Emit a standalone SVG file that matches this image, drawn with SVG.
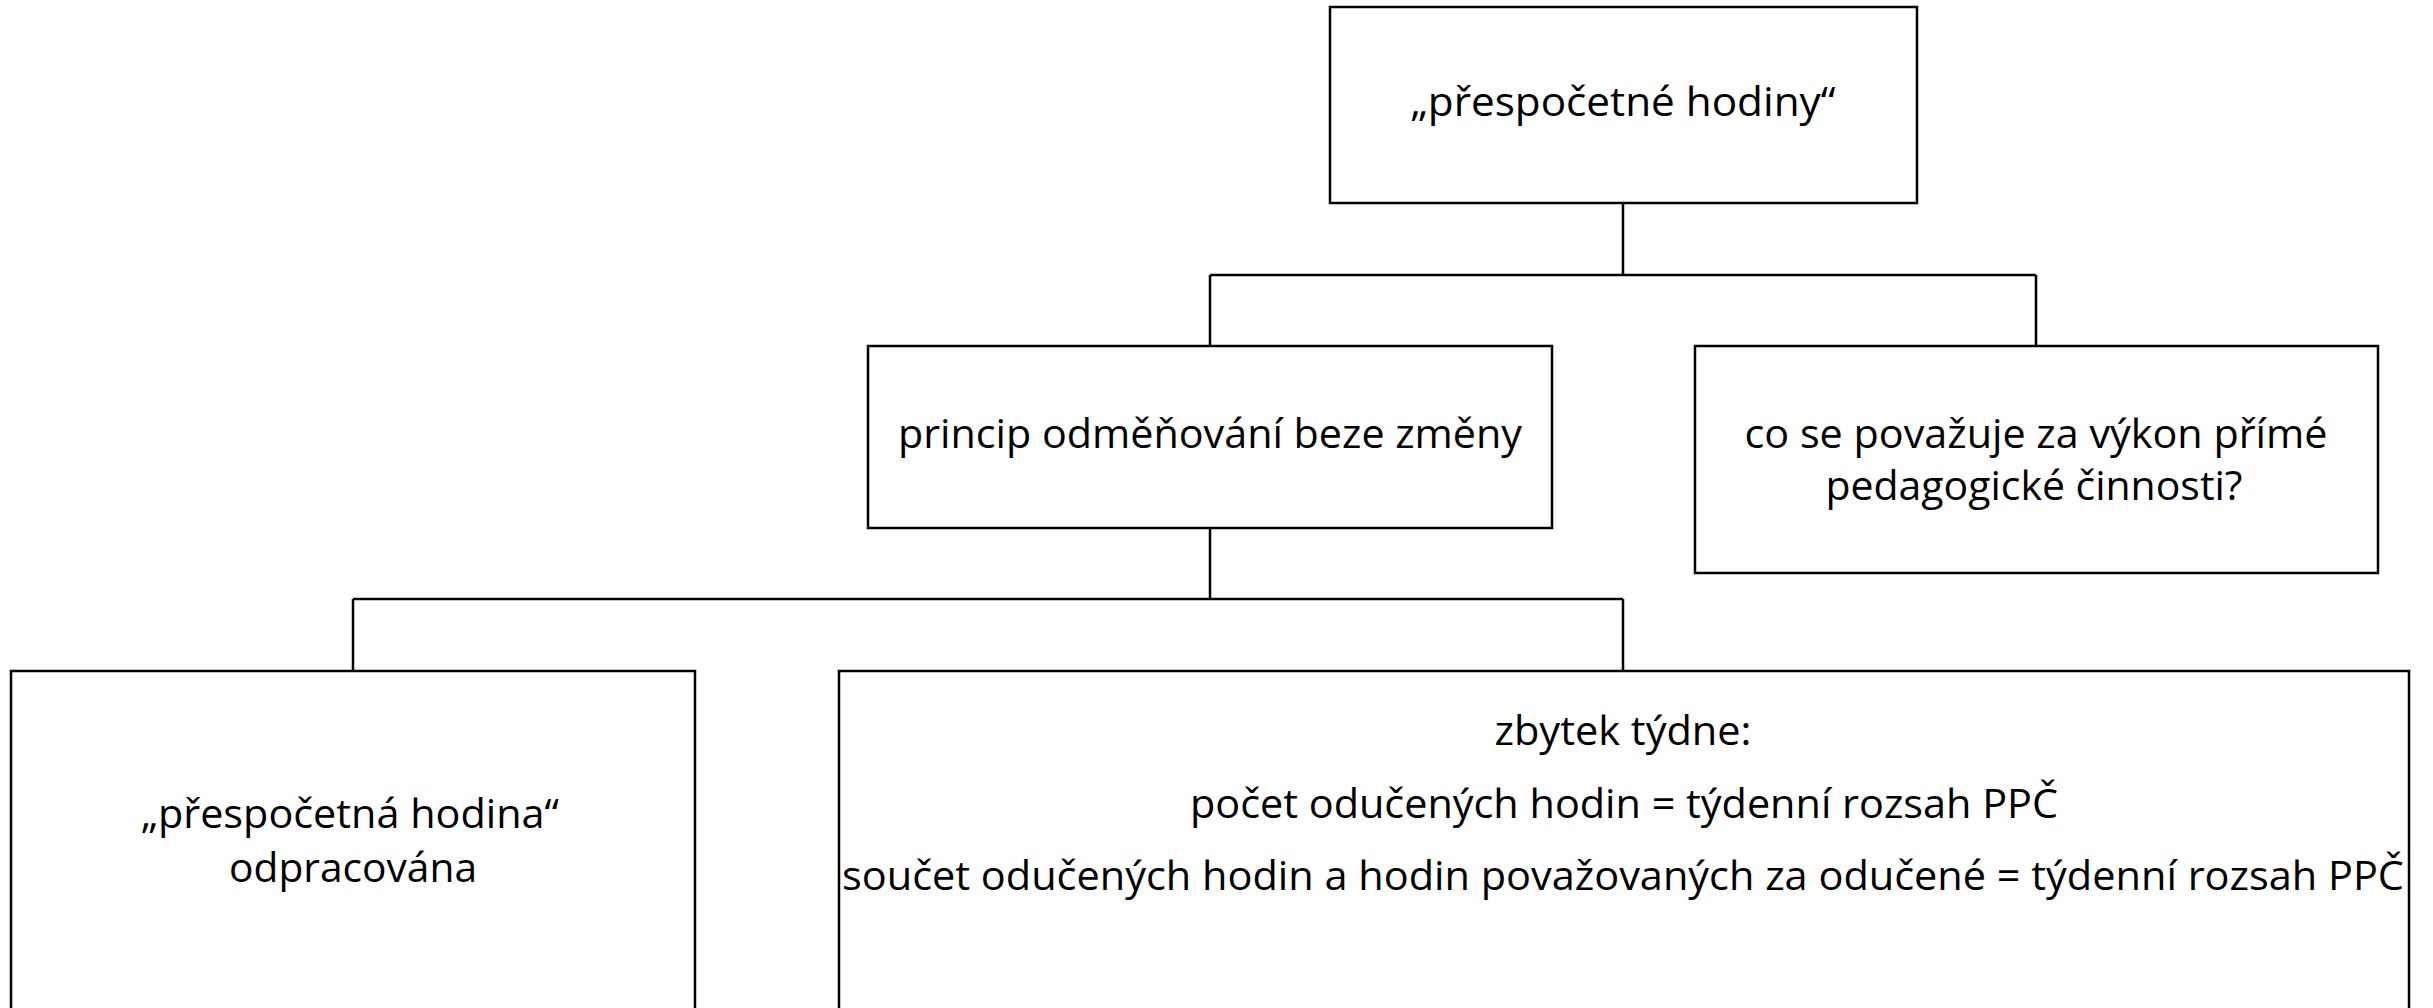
<svg xmlns="http://www.w3.org/2000/svg" width="2433" height="1008" viewBox="0 0 2433 1008">
  <style>
    .box { fill: #ffffff; stroke: #000000; stroke-width: 2.5; }
    .conn { fill: none; stroke: #000000; stroke-width: 2.5; }
    .lbl { font-family: "Open Sans", "Noto Sans", "Liberation Sans", sans-serif; font-size: 41px; fill: #000000; text-anchor: middle; }
  </style>
  <rect width="2433" height="1008" fill="#ffffff"/>
  <g id="connectors">
    <path class="conn" d="M1623 203 V275 M1210 275 H2036 M1210 275 V346 M2036 275 V346"/>
    <path class="conn" d="M1210 528 V599 M353 599 H1623 M353 599 V671 M1623 599 V671"/>
  </g>
  <g id="node-top">
    <rect class="box" x="1330" y="7" width="587" height="196"/>
    <text class="lbl" x="1623" y="116" textLength="425" lengthAdjust="spacingAndGlyphs">„přespočetné hodiny“</text>
  </g>
  <g id="node-princip">
    <rect class="box" x="868" y="346" width="684" height="182"/>
    <text class="lbl" x="1210" y="448" textLength="624" lengthAdjust="spacingAndGlyphs">princip odměňování beze změny</text>
  </g>
  <g id="node-vykon">
    <rect class="box" x="1695" y="346" width="683" height="227"/>
    <text class="lbl" x="2036" y="448" textLength="583" lengthAdjust="spacingAndGlyphs">co se považuje za výkon přímé</text>
    <text class="lbl" x="2034" y="500" textLength="417" lengthAdjust="spacingAndGlyphs">pedagogické činnosti?</text>
  </g>
  <g id="node-hodina">
    <rect class="box" x="11" y="671" width="684" height="400"/>
    <text class="lbl" x="350" y="828" textLength="418" lengthAdjust="spacingAndGlyphs">„přespočetná hodina“</text>
    <text class="lbl" x="353" y="882" textLength="248" lengthAdjust="spacingAndGlyphs">odpracována</text>
  </g>
  <g id="node-zbytek">
    <rect class="box" x="839" y="671" width="1570" height="400"/>
    <text class="lbl" x="1623" y="745" textLength="257" lengthAdjust="spacingAndGlyphs">zbytek týdne:</text>
    <text class="lbl" x="1624" y="818" textLength="868" lengthAdjust="spacingAndGlyphs">počet odučených hodin = týdenní rozsah PPČ</text>
    <text class="lbl" x="1623" y="890" textLength="1562" lengthAdjust="spacingAndGlyphs">součet odučených hodin a hodin považovaných za odučené = týdenní rozsah PPČ</text>
  </g>
</svg>
